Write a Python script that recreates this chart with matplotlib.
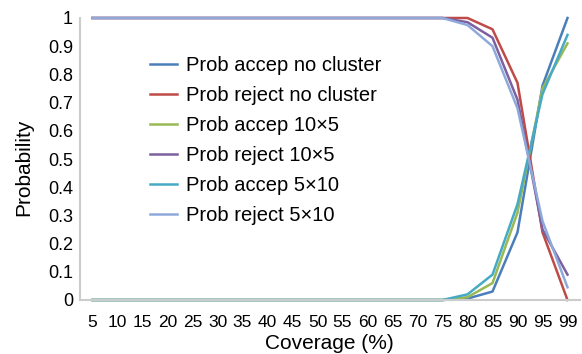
import matplotlib.pyplot as plt

plt.rcParams['font.family'] = ['Liberation Sans', 'DejaVu Sans']

coverage = ['5', '10', '15', '20', '25', '30', '35', '40', '45', '50', '55',
            '60', '65', '70', '75', '80', '85', '90', '95', '99']
flat0 = [0.0] * 15
flat1 = [1.0] * 15

accep_no_cluster = flat0 + [0.005, 0.03, 0.24, 0.76, 1.0]
reject_no_cluster = flat1 + [1.0, 0.96, 0.77, 0.24, 0.0]
accep_10x5 = flat0 + [0.01, 0.06, 0.31, 0.75, 0.91]
reject_10x5 = flat1 + [0.985, 0.93, 0.71, 0.25, 0.09]
accep_5x10 = flat0 + [0.02, 0.09, 0.34, 0.73, 0.94]
reject_5x10 = flat1 + [0.975, 0.90, 0.68, 0.28, 0.045]

series = [
    ('Prob accep no cluster', accep_no_cluster, '#4a7ebb'),
    ('Prob reject no cluster', reject_no_cluster, '#be4b48'),
    ('Prob accep 10\u00d75', accep_10x5, '#98b954'),
    ('Prob reject 10\u00d75', reject_10x5, '#7d60a0'),
    ('Prob accep 5\u00d710', accep_5x10, '#46aac5'),
    ('Prob reject 5\u00d710', reject_5x10, '#8eaadb'),
]

fig = plt.figure(figsize=(5.82, 3.54), dpi=100)
ax = fig.add_axes([80 / 582, 1 - 300 / 354, 500 / 582, 282 / 354])

x = range(len(coverage))
for label, vals, col in series:
    ax.plot(x, vals, color=col, lw=1.8, label=label, clip_on=False)

ax.set_xlim(-0.5, len(coverage) - 0.5)
ax.set_ylim(0, 1)
ax.set_xticks(list(x))
ax.set_xticklabels(coverage, fontsize=12.5)
ax.set_yticks([i / 10 for i in range(11)])
ax.set_yticklabels(['0', '0.1', '0.2', '0.3', '0.4', '0.5', '0.6', '0.7', '0.8', '0.9', '1'], fontsize=13)
ax.tick_params(axis='y', length=0, pad=5)
ax.tick_params(axis='x', length=0, pad=10.5)
for s in ['top', 'right']:
    ax.spines[s].set_visible(False)
for s in ['left', 'bottom']:
    ax.spines[s].set_color('#cccccc')
    ax.spines[s].set_linewidth(1.5)

ax.set_xlabel('Coverage (%)', fontsize=15)
ax.xaxis.set_label_coords(0.498, -0.122)
ax.set_ylabel('Probability', fontsize=15)
ax.yaxis.set_label_coords(-0.094, 0.47)

ax.legend(loc='upper left', bbox_to_anchor=(150 / 582, 1 - 56 / 354),
          bbox_transform=fig.transFigure, frameon=False, fontsize=14.5,
          handlelength=1.35, handletextpad=0.45, labelspacing=0.55,
          borderpad=0, borderaxespad=0)

fig.savefig('out.png', dpi=100)
